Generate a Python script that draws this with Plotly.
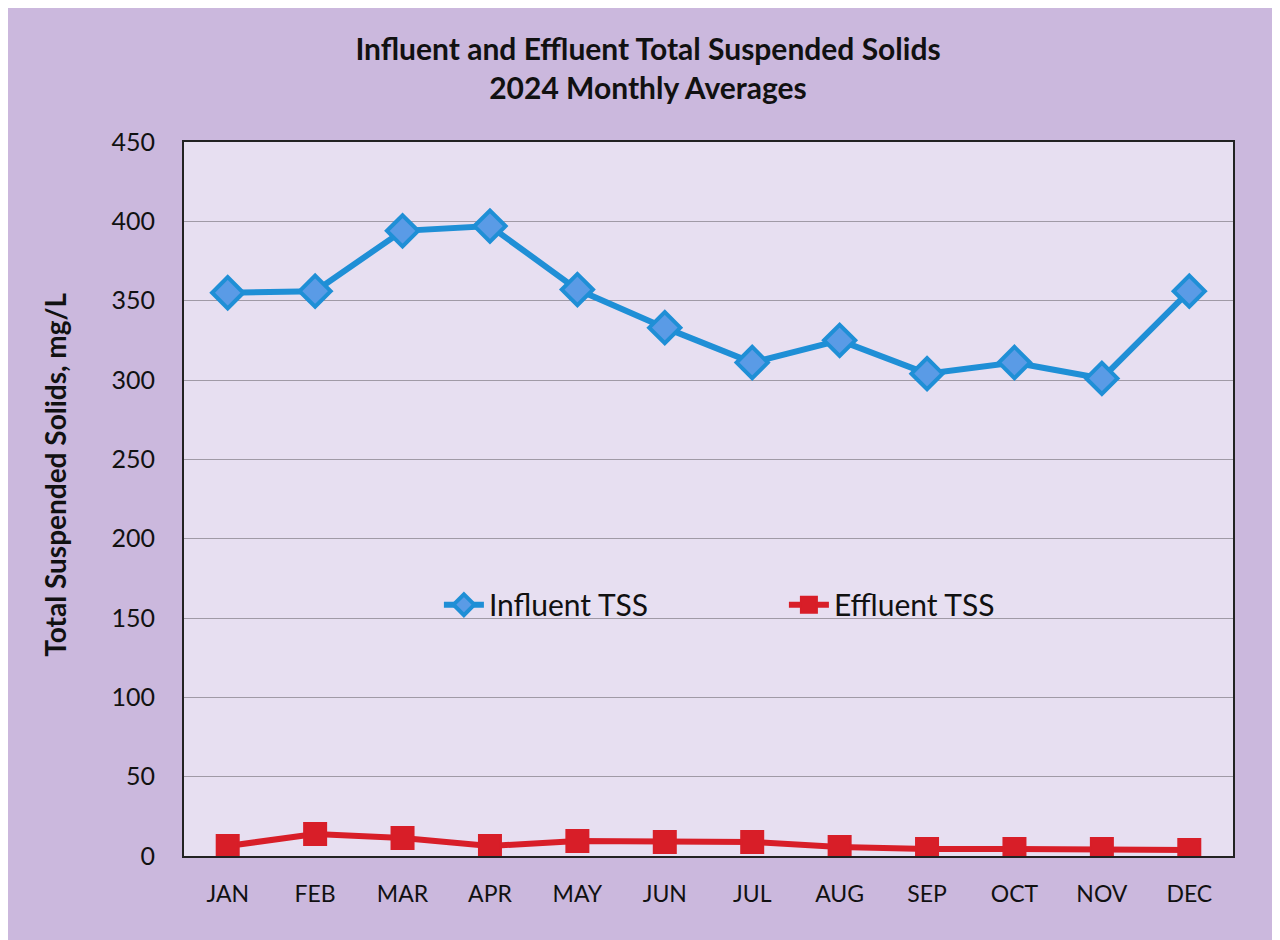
import plotly.graph_objects as go

months = ["JAN", "FEB", "MAR", "APR", "MAY", "JUN", "JUL", "AUG", "SEP", "OCT", "NOV", "DEC"]
influent_tss = [355, 356, 394, 397, 357, 333, 311, 325, 304, 311, 301, 356]
effluent_tss = [6.3, 13.9, 11.3, 6.3, 9.5, 8.8, 8.8, 5.7, 4.4, 4.4, 4.4, 3.8]
y_ticks = [0, 50, 100, 150, 200, 250, 300, 350, 400, 450]

FONT = "Lato, 'Open Sans', sans-serif"

fig = go.Figure()
fig.add_trace(go.Scatter(
    x=months, y=influent_tss, name="Influent TSS", mode="lines+markers",
    line=dict(color="#1F8FD6", width=6),
    marker=dict(symbol="diamond", size=24, color="#5A9BE6", line=dict(color="#1F8FD6", width=4)),
))
fig.add_trace(go.Scatter(
    x=months, y=effluent_tss, name="Effluent TSS", mode="lines+markers",
    line=dict(color="#D81E28", width=6),
    marker=dict(symbol="square", size=22, color="#D81E28", line=dict(color="#D81E28", width=2)),
))

fig.update_layout(
    width=1280, height=940,
    paper_bgcolor="#CBB8DD",
    plot_bgcolor="#E7DFF1",
    margin=dict(l=176, r=55, t=134, b=92),
    title=dict(
        text="<b>Influent and Effluent Total Suspended Solids<br>2024 Monthly Averages</b>",
        x=0.5, xanchor="center", y=0.945, yanchor="top",
        font=dict(family=FONT, size=30, color="#111111"),
    ),
    font=dict(family=FONT, color="#111111"),
    showlegend=True,
    legend=dict(
        orientation="h", x=0.243, xanchor="left", y=0.352, yanchor="middle",
        bgcolor="rgba(0,0,0,0)", font=dict(family=FONT, size=30, color="#111111"),
        entrywidth=290, entrywidthmode="pixels", itemwidth=40,
    ),
    annotations=[dict(
        text="<b>Total Suspended Solids, mg/L</b>", textangle=-90,
        xref="paper", yref="paper", x=-0.123, y=0.534,
        xanchor="center", yanchor="middle", showarrow=False,
        font=dict(family=FONT, size=28, color="#111111"),
    )],
)
fig.update_xaxes(
    type="category", range=[-0.5, 11.5], showgrid=False,
    showline=True, linecolor="#222222", linewidth=2, mirror=True,
    ticks="outside", ticklen=16, tickcolor="rgba(0,0,0,0)",
    tickfont=dict(family=FONT, size=23, color="#111111"),
)
fig.update_yaxes(
    range=[0, 450], tickvals=y_ticks, showgrid=True, gridcolor="#A09AA6", gridwidth=1,
    showline=True, linecolor="#222222", linewidth=2, mirror=True,
    ticks="outside", ticklen=22, tickcolor="rgba(0,0,0,0)",
    tickfont=dict(family=FONT, size=25, color="#111111"),
    zeroline=False,
)

fig.write_html("out.html")
